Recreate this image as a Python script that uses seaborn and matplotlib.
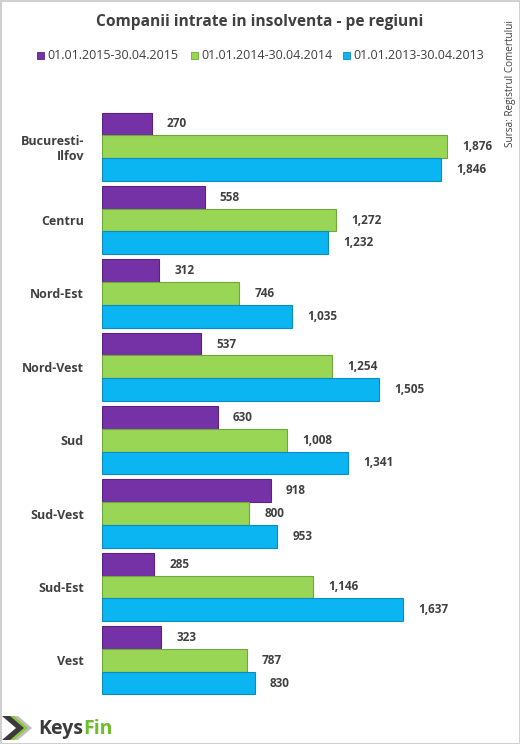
import matplotlib
matplotlib.use("Agg")
import matplotlib.pyplot as plt
import seaborn as sns
import pandas as pd
from matplotlib.patches import Polygon

regions = ["Bucuresti-\nIlfov", "Centru", "Nord-Est", "Nord-Vest", "Sud", "Sud-Vest", "Sud-Est", "Vest"]
series = ["01.01.2015-30.04.2015", "01.01.2014-30.04.2014", "01.01.2013-30.04.2013"]
v2015 = [270, 558, 312, 537, 630, 918, 285, 323]
v2014 = [1876, 1272, 746, 1254, 1008, 800, 1146, 787]
v2013 = [1846, 1232, 1035, 1505, 1341, 953, 1637, 830]
colors = ["#7532A6", "#9AD656", "#0BB5F2"]
edges = ["#5A2283", "#6FA83A", "#0A8CC0"]

rows = []
for s, vals in zip(series, [v2015, v2014, v2013]):
    for r, v in zip(regions, vals):
        rows.append({"Regiune": r, "Perioada": s, "Valoare": v})
df = pd.DataFrame(rows)

sns.set_theme(style="white")
plt.rcParams['font.family'] = ['Open Sans', 'DejaVu Sans']

fig = plt.figure(figsize=(5.2, 7.44), dpi=100)
fig.patch.set_edgecolor("#D0D0D0")
fig.patch.set_linewidth(2)
ax = fig.add_axes([102/520, 1 - 697/744, (488 - 102)/520, (697 - 110)/744])

sns.barplot(data=df, y="Regiune", x="Valoare", hue="Perioada", hue_order=series,
            order=regions, palette=colors, width=0.93, orient="h", ax=ax,
            legend=False, saturation=1)

for i, cont in enumerate(ax.containers):
    for bar in cont:
        bar.set_edgecolor(edges[i])
        bar.set_linewidth(0.8)
    ax.bar_label(cont, labels=[f"{int(round(v)):,}" for v in cont.datavalues], padding=11,
                 fontsize=8.5, fontweight="bold", color="#404040")

ax.set_xlim(0, 2100)
ax.set_ylim(7.5, -0.5)
ax.set_xlabel("")
ax.set_ylabel("")
ax.set_xticks([])
for sp in ax.spines.values():
    sp.set_visible(False)
ax.tick_params(axis="y", length=0, pad=13)
for lab in ax.get_yticklabels():
    lab.set_fontweight("bold")
    lab.set_color("#404040")
    lab.set_fontsize(9)
    lab.set_multialignment("right")

fig.text(0.5, 1 - 22/744, "Companii intrate in insolventa - pe regiuni", ha="center", va="center",
         fontsize=11.2, fontweight="bold", color="#404040")

# legend
leg_x = [37, 191, 343]
for x, s, c, e in zip(leg_x, series, colors, edges):
    fig.patches.append(plt.Rectangle((x/520, 1 - 59/744), 7/520, 7/744, transform=fig.transFigure,
                                     facecolor=c, edgecolor=e, linewidth=0.6))
    fig.text((x + 10)/520, 1 - 55.5/744, s, ha="left", va="center", fontsize=9, color="#404040")

fig.text(510/520, 1 - 20/744, "Sursa: Registrul Comertului", rotation=90, ha="center", va="top",
         fontsize=7.2, color="#404040")

# logo
def chevron(x0, col):
    pts = [(x0, 716), (x0 + 8, 716), (x0 + 22, 728), (x0 + 8, 740), (x0, 740), (x0 + 14, 728)]
    fig.patches.append(Polygon([(px/520, 1 - py/744) for px, py in pts], closed=True,
                               transform=fig.transFigure, facecolor=col, edgecolor="none"))
chevron(10, "#BFBFBF")
chevron(6, "#8DC63F")
chevron(2, "#3A3A3A")
t = fig.text(38/520, 1 - 729/744, "Keys", ha="left", va="center", fontsize=14, fontweight="bold",
             color="#3A3A3A")
fig.canvas.draw()
bb = t.get_window_extent()
fig.text(bb.x1/520, 1 - 729/744, "Fin", ha="left", va="center", fontsize=14, fontweight="bold",
         color="#6CBF2A")

fig.savefig("out.png", dpi=100)
